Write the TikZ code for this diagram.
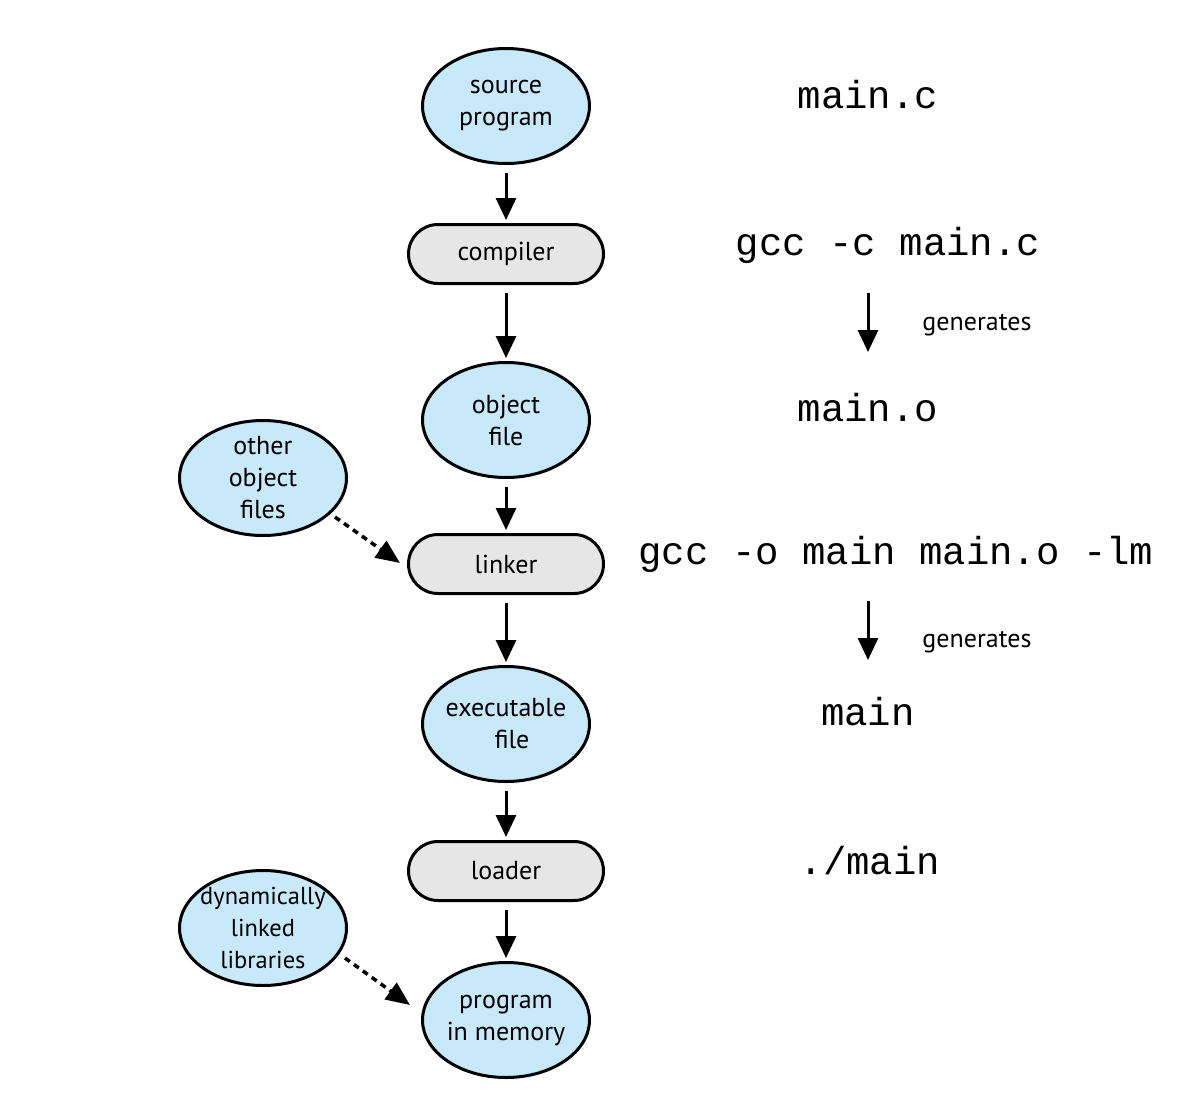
\documentclass[tikz,border=0pt]{standalone}
\usepackage{fontspec}
\setmainfont{PT Sans}
\setmonofont{Liberation Mono}
\usetikzlibrary{arrows.meta,shapes.geometric,shapes.misc}
\definecolor{ellblue}{HTML}{C8E9F9}
\definecolor{pillgray}{HTML}{E6E6E6}
\tikzset{
  ell/.style={ellipse,draw=black,line width=3pt,fill=ellblue,minimum width=167pt,minimum height=115pt,inner sep=-14pt,align=center,font=\fontsize{26}{32}\selectfont},
  pill/.style={rounded rectangle,draw=black,line width=3pt,fill=pillgray,minimum width=195pt,minimum height=59pt,inner sep=0pt,font=\fontsize{26}{32}\selectfont},
  flow/.style={line width=3pt,-{Triangle[width=20pt,length=22pt]},shorten <=8pt,shorten >=3pt},
  dflow/.style={line width=3.5pt,dash pattern=on 6pt off 5pt,-{Triangle[width=20pt,length=24pt]}},
  cmd/.style={font=\fontsize{39}{40}\selectfont\ttfamily,inner sep=0pt},
  gen/.style={font=\fontsize{26}{30}\selectfont,inner sep=0pt},
}
\begin{document}
\begin{tikzpicture}[x=1pt,y=-1pt]
\useasboundingbox (0,0) rectangle (1195,1093);
\node[ell] (src) at (506,106) {source\\program};
\node[pill] (comp) at (506,254) {compiler};
\node[ell] (obj) at (506,420) {object\\file};
\node[pill] (link) at (506,564) {linker};
\node[ell] (exe) at (506,724) {executable\\\hspace*{12pt}file};
\node[pill] (load) at (506,871) {loader};
\node[ell] (mem) at (506,1020) {program\\in memory};
\node[ell] (other) at (263,478) {other\\object\\files};
\node[ell, font=\fontsize{24.5}{32}\selectfont] (dll) at (263,928) {dynamically\\linked\\libraries};

\draw[flow] (src) -- (comp);
\draw[flow] (comp) -- (obj);
\draw[flow] (obj) -- (link);
\draw[flow] (link) -- (exe);
\draw[flow] (exe) -- (load);
\draw[flow] (load) -- (mem);

\coordinate (o1) at (335,517);
\coordinate (o2) at (400,563);
\coordinate (d1) at (345,958);
\coordinate (d2) at (410,1005);
\draw[dflow] (o1) -- (o2);
\draw[dflow] (d1) -- (d2);

\node[cmd] (t1) at (868,95) {main.c};
\node[cmd] (t2) at (888,245) {gcc -c main.c};
\node[cmd] (t3) at (868,408) {main.o};
\node[cmd] (t4) at (896,554) {gcc -o main main.o -lm};
\node[cmd] (t5) at (868,712) {main};
\node[cmd] (t6) at (870,861) {./main};

\coordinate (a1s) at (868,293);
\coordinate (a1e) at (868,352);
\coordinate (a2s) at (868,601);
\coordinate (a2e) at (868,660);
\draw[line width=3pt,-{Triangle[width=20pt,length=22pt]}] (a1s) -- (a1e);
\draw[line width=3pt,-{Triangle[width=20pt,length=22pt]}] (a2s) -- (a2e);
\node[gen] (g1) at (977,325) {generates};
\node[gen] (g2) at (977,642) {generates};
\end{tikzpicture}
\end{document}
